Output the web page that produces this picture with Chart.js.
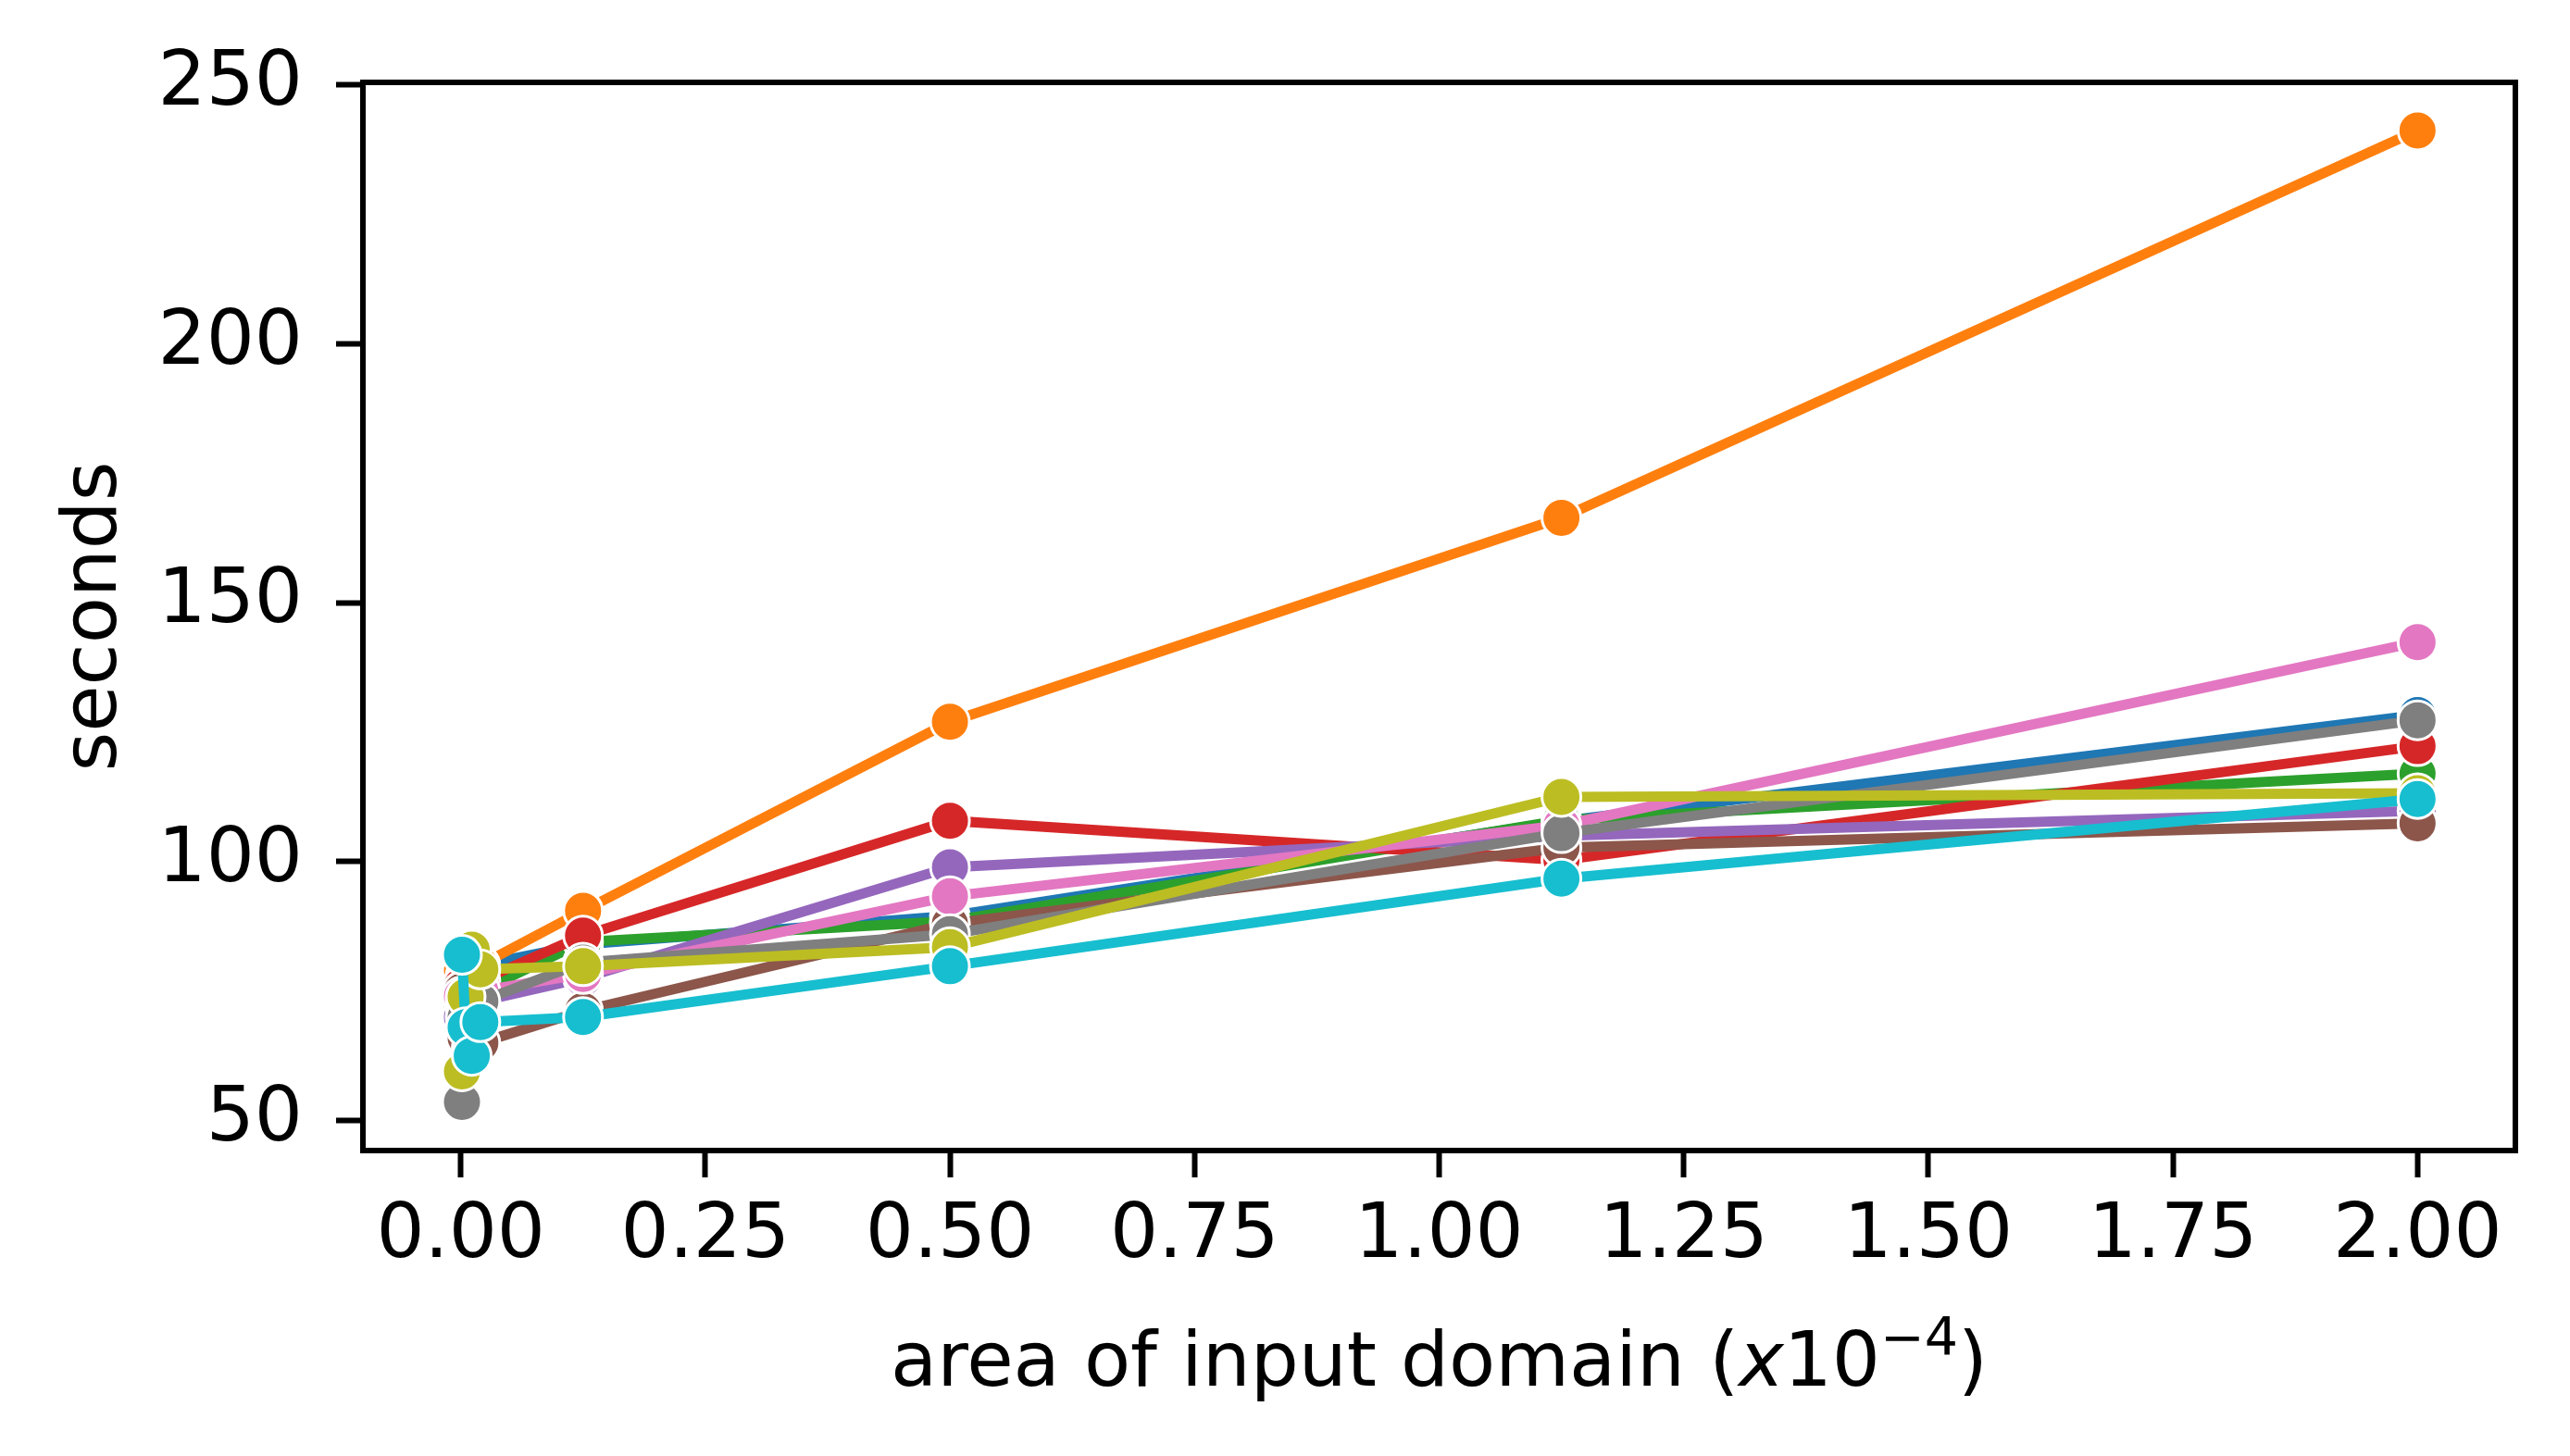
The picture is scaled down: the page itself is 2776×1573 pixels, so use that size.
<!DOCTYPE html>
<html lang="en">

<head>
    <meta charset="UTF-8">
    <title>Runtime vs area of input domain</title>
    <script src="https://cdn.jsdelivr.net/npm/chart.js"></script>
    <style>
        html,
        body {
            margin: 0;
            padding: 0;
            background: #ffffff;
        }

        .chart-box {
            width: 2776px;
            height: 1573px;
        }
    </style>
</head>

<body>
    <div class="chart-box">
        <canvas id="runtimeChart" width="2776" height="1573"></canvas>
    </div>

    <script>
        // x values: area of input domain (x10^-4)
        const areas = [0.00125, 0.005, 0.01125, 0.02, 0.125, 0.5, 1.125, 2.0];

        // seconds per run, one array per line (matplotlib tab10 order)
        const runBlue = [80, 82, 81, 80, 84, 89.5, 107.8, 128.3];
        const runOrange = [79, 78, 79, 80, 90.5, 127, 166.4, 241.2];
        const runGreen = [72, 74, 73, 75, 84.5, 88.5, 108, 117];
        const runRed = [76, 74, 75, 77, 85.7, 107.9, 100.3, 122.3];
        const runPurple = [70, 72, 71, 73, 77.5, 98.9, 105, 109.8];
        const runBrown = [75, 66, 64, 65, 71.2, 88, 102.7, 107.4];
        const runPink = [74, 73, 72, 75, 78.3, 93.3, 107, 142.4];
        const runGray = [53.6, 70, 72, 73, 80.5, 86, 105.5, 127.3];
        const runOlive = [59.5, 73.9, 83, 79.2, 79.8, 83.5, 112.5, 113.2];
        const runCyan = [82, 68, 62.5, 69, 70, 79.8, 96.7, 112.1];

        const xTicks = [0, 0.25, 0.5, 0.75, 1.0, 1.25, 1.5, 1.75, 2.0];
        const yTicks = [50, 100, 150, 200, 250];

        const series = [runBlue, runOrange, runGreen, runRed, runPurple, runBrown, runPink, runGray, runOlive, runCyan];
        const colors = ['#1f77b4', '#ff7f0e', '#2ca02c', '#d62728', '#9467bd', '#8c564b', '#e377c2', '#7f7f7f', '#bcbd22', '#17becf'];

        const FONT = '"DejaVu Sans", sans-serif';
        const FONT_SIZE = 82;

        const datasets = series.map((vals, i) => ({
            data: areas.map((x, j) => ({ x: x, y: vals[j] })),
            borderColor: colors[i],
            backgroundColor: colors[i],
            borderWidth: 11,
            pointRadius: 21,
            pointHoverRadius: 21,
            pointBorderWidth: 3,
            pointBorderColor: '#ffffff',
            pointBackgroundColor: colors[i],
            tension: 0,
            // later lines drawn on top, like matplotlib
            order: series.length - i
        }));

        // frame round the plot area and the two axis titles
        const frameAndTitles = {
            id: 'frameAndTitles',
            afterDraw(chart) {
                const { ctx, chartArea } = chart;
                ctx.save();
                ctx.strokeStyle = '#000';
                ctx.lineWidth = 6;
                ctx.strokeRect(chartArea.left, chartArea.top,
                    chartArea.right - chartArea.left, chartArea.bottom - chartArea.top);

                ctx.fillStyle = '#000';
                // y title
                ctx.save();
                ctx.translate(104, (chartArea.top + chartArea.bottom) / 2);
                ctx.rotate(-Math.PI / 2);
                ctx.font = FONT_SIZE + 'px ' + FONT;
                ctx.textAlign = 'center';
                ctx.textBaseline = 'middle';
                ctx.fillText('seconds', 0, 0);
                ctx.restore();

                // x title: area of input domain (x10^-4) with italic x and superscript
                const parts = [
                    { t: 'area of input domain (', f: FONT_SIZE + 'px ' + FONT, dy: 0 },
                    { t: 'x', f: 'oblique ' + FONT_SIZE + 'px ' + FONT, dy: 0 },
                    { t: '10', f: FONT_SIZE + 'px ' + FONT, dy: 0 },
                    { t: '\u22124', f: Math.round(FONT_SIZE * 0.7) + 'px ' + FONT, dy: -33 },
                    { t: ')', f: FONT_SIZE + 'px ' + FONT, dy: 0 }
                ];
                let total = 0;
                parts.forEach(p => { ctx.font = p.f; p.w = ctx.measureText(p.t).width; total += p.w; });
                let x = (chartArea.left + chartArea.right) / 2 - total / 2;
                const base = 1497;
                ctx.textAlign = 'left';
                ctx.textBaseline = 'alphabetic';
                parts.forEach(p => {
                    ctx.font = p.f;
                    ctx.fillText(p.t, x, base + p.dy);
                    x += p.w;
                });
                ctx.restore();
            }
        };

        const ctx = document.getElementById('runtimeChart').getContext('2d');
        new Chart(ctx, {
            type: 'line',
            data: { datasets: datasets },
            options: {
                responsive: false,
                devicePixelRatio: 1,
                animation: false,
                layout: { padding: { top: 89, right: 59, left: 0, bottom: 0 } },
                plugins: {
                    legend: { display: false },
                    tooltip: { enabled: false }
                },
                scales: {
                    x: {
                        type: 'linear',
                        min: -0.1,
                        max: 2.1,
                        afterBuildTicks: s => { s.ticks = xTicks.map(v => ({ value: v })); },
                        afterFit: s => { s.height = 330; },
                        ticks: {
                            color: '#000',
                            font: { family: FONT, size: FONT_SIZE },
                            padding: 16,
                            maxRotation: 0,
                            callback: v => v.toFixed(2)
                        },
                        grid: {
                            drawOnChartArea: false,
                            tickLength: 29,
                            tickWidth: 6,
                            tickColor: '#000'
                        },
                        border: { display: true, color: '#000', width: 6 }
                    },
                    y: {
                        type: 'linear',
                        min: 44.2,
                        max: 250.5,
                        afterBuildTicks: s => { s.ticks = yTicks.map(v => ({ value: v })); },
                        afterFit: s => { s.width = 392; },
                        ticks: {
                            color: '#000',
                            font: { family: FONT, size: FONT_SIZE },
                            padding: 36
                        },
                        grid: {
                            drawOnChartArea: false,
                            tickLength: 29,
                            tickWidth: 6,
                            tickColor: '#000'
                        },
                        border: { display: true, color: '#000', width: 6 }
                    }
                }
            },
            plugins: [frameAndTitles]
        });
    </script>
</body>

</html>
